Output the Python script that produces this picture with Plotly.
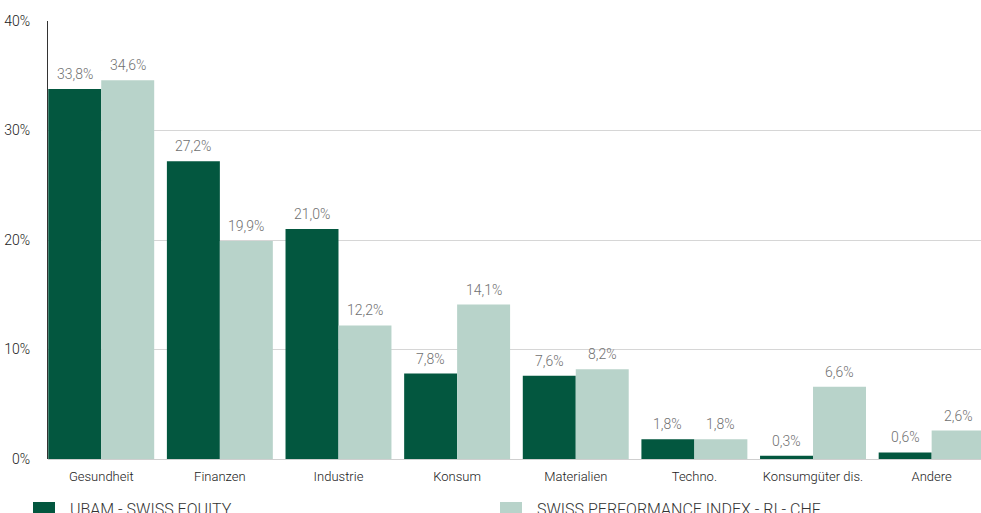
import plotly.graph_objects as go

categories = ["Gesundheit", "Finanzen", "Industrie", "Konsum", "Materialien",
              "Techno.", "Konsumgüter dis.", "Andere"]
ubam = [33.8, 27.2, 21.0, 7.8, 7.6, 1.8, 0.3, 0.6]
spi = [34.6, 19.9, 12.2, 14.1, 8.2, 1.8, 6.6, 2.6]
series_names = ["UBAM - SWISS EQUITY", "SWISS PERFORMANCE INDEX - RI - CHF"]
y_ticks = [0, 10, 20, 30, 40]
y_ticklabels = ["0%", "10%", "20%", "30%", "40%"]

DARK = "#03573f"
LIGHT = "#b8d3ca"
FONT = "Roboto, Liberation Sans, Arial, sans-serif"
BARGAP = 0.107

x_idx = list(range(len(categories)))

fig = go.Figure()
fig.add_trace(go.Bar(x=x_idx, y=ubam, name=series_names[0], marker_color=DARK,
                     marker_line_width=0, showlegend=False))
fig.add_trace(go.Bar(x=x_idx, y=spi, name=series_names[1], marker_color=LIGHT,
                     marker_line_width=0, showlegend=False))

half = (1 - BARGAP) / 4
annotations = []
for vals, sign in ((ubam, -1), (spi, 1)):
    for i, v in enumerate(vals):
        annotations.append(dict(
            x=i + sign * half, y=v, xref="x", yref="y",
            text=f"{v:.1f}%".replace(".", ","), showarrow=False,
            yanchor="bottom", xanchor="center", yshift=5,
            font=dict(family=FONT, size=14, weight=300, color="#707070")))

W, L, T, B, H = 981, 48, 21, 54, 513
PW = W - L
PH = H - T - B
def px_x(p):
    return (p - L) / PW
def px_y(p):
    return (H - B - p) / PH

shapes = []
legend_items = [(33, 55, 68, DARK, series_names[0]), (500, 522, 535, LIGHT, series_names[1])]
for x0, x1, tx, col, name in legend_items:
    shapes.append(dict(type="rect", xref="paper", yref="paper",
                       x0=px_x(x0), x1=px_x(x1), y0=px_y(502), y1=px_y(530),
                       fillcolor=col, line_width=0, layer="above"))
    annotations.append(dict(x=px_x(tx), y=px_y(498), xref="paper", yref="paper",
                            text=name, showarrow=False, xanchor="left", yanchor="top",
                            font=dict(family=FONT, size=16, weight=300, color="#333333")))

fig.update_layout(
    width=W, height=H,
    margin=dict(l=L, r=0, t=T, b=B, autoexpand=False),
    plot_bgcolor="white", paper_bgcolor="white",
    barmode="group", bargap=BARGAP, bargroupgap=0,
    font=dict(family=FONT, size=13, color="#222222"),
    xaxis=dict(tickmode="array", tickvals=x_idx, ticktext=categories,
               range=[-0.4487, 7.416], showgrid=False, zeroline=False,
               showline=False, ticks="", ticklabelstandoff=8,
               tickfont=dict(family=FONT, size=13, weight=300, color="#1a1a1a")),
    yaxis=dict(range=[0, 40], tickmode="array", tickvals=y_ticks, ticktext=y_ticklabels,
               showgrid=True, gridcolor="#d6d6d6", gridwidth=1,
               zeroline=True, zerolinecolor="#cfcfcf", zerolinewidth=1,
               showline=True, linecolor="#333333", linewidth=1, ticks="",
               ticklabelstandoff=14,
               tickfont=dict(family=FONT, size=14, weight=300, color="#1a1a1a")),
    annotations=annotations, shapes=shapes,
)

fig.write_html("out.html", config={"displayModeBar": False},
               post_script="document.body.style.margin='0';document.body.style.overflow='hidden';")
